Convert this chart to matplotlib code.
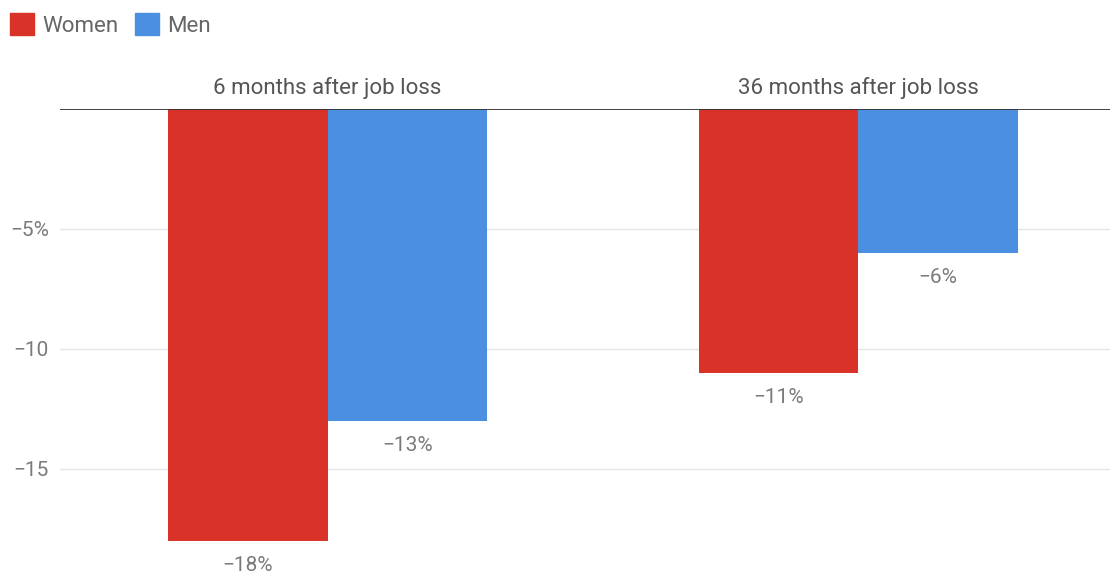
import matplotlib
matplotlib.use("Agg")
import matplotlib.pyplot as plt
from matplotlib.patches import Rectangle

plt.rcParams['font.family'] = ['Roboto', 'DejaVu Sans']

categories = ["6 months after job loss", "36 months after job loss"]
women = [-18, -11]
men = [-13, -6]
series_names = ["Women", "Men"]
colors = ["#d93228", "#4a8fe0"]
yticks = [-5, -10, -15]
ytick_labels = ["\u22125%", "\u221210", "\u221215"]

fig = plt.figure(figsize=(11.1, 5.75), dpi=100)
ax = fig.add_axes([60 / 1110, 15 / 575, 1050 / 1110, 451 / 575])

x = list(range(len(categories)))
w = 0.30
grey = "#7a7a7a"

for vals, off, c in [(women, -w / 2, colors[0]), (men, w / 2, colors[1])]:
    bars = ax.bar([i + off for i in x], vals, width=w, color=c, zorder=3)
    for b, v in zip(bars, vals):
        ax.annotate("\u2212%d%%" % abs(v), (b.get_x() + b.get_width() / 2, v),
                    xytext=(0, -18), textcoords="offset points",
                    ha="center", va="center", fontsize=15, color=grey,
                    annotation_clip=False)

for i, cat in zip(x, categories):
    ax.annotate(cat, (i, 0), xytext=(0, 15), textcoords="offset points",
                ha="center", va="center", fontsize=16, color="#555555",
                annotation_clip=False)

ax.set_xlim(-0.5038, 1.4737)
ax.set_ylim(-18.8, 0)
ax.axhline(0, color="#333333", lw=1.3, zorder=4)
for t in yticks:
    ax.axhline(t, color="#e4e4e4", lw=1, zorder=1)
ax.set_yticks(yticks)
ax.set_yticklabels(ytick_labels, color=grey, fontsize=15)
ax.tick_params(axis="y", length=0, pad=8)
ax.set_xticks([])
for s in ax.spines.values():
    s.set_visible(False)

# legend
handles = [Rectangle((0, 0), 1, 1, color=c) for c in colors]
leg = fig.legend(handles, series_names, loc="upper left", bbox_to_anchor=(-0.003, 1.0),
                 frameon=False, ncol=2, fontsize=16, handlelength=1.1, handleheight=1.1,
                 handletextpad=0.36, columnspacing=0.72, borderaxespad=0.2)
for t in leg.get_texts():
    t.set_color("#666666")

fig.savefig("out.png", dpi=100)
